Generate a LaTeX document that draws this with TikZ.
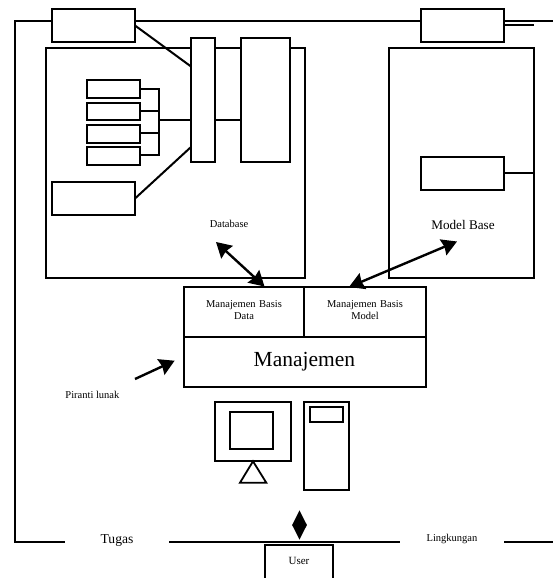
\documentclass[tikz,border=0pt]{standalone}
\usepackage{fontspec}
\setmainfont{Liberation Serif}
\usetikzlibrary{arrows.meta,shapes.geometric}
\tikzset{
  x=1pt,y=-1pt,
  boxnode/.style={draw=black,fill=white,rectangle,inner sep=0pt,outer sep=0pt,line width=2pt},
  thin link/.style={line width=2pt},
  bigarrow/.style={line width=2.4pt,{Stealth[length=15pt,width=17pt,inset=1.5pt]}-{Stealth[length=15pt,width=17pt,inset=1.5pt]}},
  onearrow/.style={line width=2.4pt,-{Stealth[length=15pt,width=17pt,inset=1.5pt]}},
  label small/.style={inner sep=0pt,font=\fontsize{10.5}{12.8}\selectfont,align=center},
  label mid/.style={inner sep=0pt,font=\fontsize{13.2}{15}\selectfont,align=center},
  gap label/.style={fill=white,inner sep=0pt,minimum width=104pt,minimum height=12pt,align=center},
}
% name, x1, y1, x2, y2
\newcommand{\bx}[5]{%
  \pgfmathsetmacro{\cxx}{(#2+#4)/2}\pgfmathsetmacro{\cyy}{(#3+#5)/2}%
  \pgfmathsetmacro{\ww}{#4-#2}\pgfmathsetmacro{\hh}{#5-#3}%
  \node[boxnode,minimum width=\ww pt,minimum height=\hh pt] (#1) at (\cxx,\cyy) {};}
\begin{document}
\begin{tikzpicture}[line width=2pt]
\path[use as bounding box,fill=white] (0,0) rectangle (553,578);
\clip (0,0) rectangle (553,578);
% outer environment frame
\coordinate (frameTR) at (553,21);
\coordinate (frameTL) at (14.5,21);
\coordinate (frameBL) at (14.5,541.7);
\coordinate (frameBR) at (553,541.7);
\draw (frameTR) -- (frameTL) -- (frameBL) -- (frameBR);
\node[gap label,font=\fontsize{13.6}{15}\selectfont] (tugas) at (117,540.5) {Tugas};
\node[gap label,font=\fontsize{10.5}{12}\selectfont] (lingkungan) at (452,539) {Lingkungan};
% database and model base
\bx{db}{46}{48}{304.5}{278}
\bx{mb}{388.7}{48}{534}{278}
\bx{tl}{52}{9}{135}{42}
\bx{tr}{421}{9}{504}{42}
\bx{narrow}{191}{38}{215}{162}
\bx{wide}{241}{38}{290}{162}
\bx{sa}{87}{80}{140}{98}
\bx{sb}{87}{103}{140}{120}
\bx{sc}{87}{125}{140}{143}
\bx{sd}{87}{147}{140}{165}
\bx{ll}{52}{182}{135}{215}
\bx{inner}{421}{157}{504}{190}
\coordinate (brTop) at (159,89);
\coordinate (brBot) at (159,155);
\coordinate (brMid) at (159,120);
\coordinate (nUp) at (191,66.5);
\coordinate (nLow) at (191,147);
\coordinate (nW) at (191,120);
\coordinate (nE) at (215,120);
\coordinate (wW) at (241,120);
\coordinate (sbE) at (140,111);
\coordinate (scE) at (140,133);
\coordinate (innerE) at (504,173);
\draw[thin link] (sa.east |- brTop) -- (brTop) -- (brBot) -- (sd.east |- brBot);
\draw[thin link] (sbE) -- (sbE -| brTop);
\draw[thin link] (scE) -- (scE -| brTop);
\draw[thin link] (brMid) -- (nW);
\draw[thin link] (nE) -- (wW);
\draw[thin link] (tl.east) -- (nUp);
\draw[thin link] (ll.east) -- (nLow);
\draw[thin link] (innerE) -- (innerE -| mb.east);
\coordinate (trLow) at (504,25);
\coordinate (mbCorner) at (534,25);
\draw[thin link] (trLow) -- (mbCorner);
\node[label small] (dbtext) at (229,224) {Database};
\node[label mid] (mbtext) at (463,225) {Model Base};
% management block
\bx{mgr}{184}{336.7}{425.5}{386.7}
\bx{mbd}{184}{287}{304.4}{336.7}
\bx{mbm}{304.4}{287}{425.5}{336.7}
\node[label small,text width=110pt] (mbdt) at (244,310) {Manajemen Basis\\Data};
\node[label small,text width=110pt] (mbmt) at (365,310) {Manajemen Basis\\Model};
\node[inner sep=0pt,font=\fontsize{21.5}{23}\selectfont] (mgrt) at (304.4,362) {Manajemen};
% arrows
\coordinate (a1s) at (216,242);
\coordinate (a1e) at (264.5,286.5);
\coordinate (a2s) at (457,241.5);
\coordinate (a2e) at (349,287);
\coordinate (a3s) at (135,379);
\coordinate (a3e) at (174.6,360.7);
\draw[bigarrow] (a1s) -- (a1e);
\draw[bigarrow] (a2s) -- (a2e);
\draw[onearrow] (a3s) -- (a3e);
\node[label small] (piranti) at (92.4,394.7) {Piranti lunak};
% computer
\bx{mon}{215}{402}{290.6}{461.3}
\bx{scr}{229.6}{412}{273.4}{448.7}
\coordinate (triA) at (253,461.3);
\coordinate (triB) at (266.3,482.7);
\coordinate (triC) at (240,482.7);
\draw[line width=1.8pt] (triA) -- (triB) -- (triC) -- cycle;
\bx{tower}{304.4}{402}{348.5}{490}
\bx{drive}{309.7}{406.7}{342.5}{422}
% user
\node[diamond,fill=black,inner sep=0pt,minimum width=15.6pt,minimum height=30pt] (dia) at (299.5,525) {};
\bx{user}{265}{544.7}{332.6}{590}
\node[inner sep=0pt,font=\fontsize{11}{13}\selectfont] (usert) at (299,560.7) {User};
\end{tikzpicture}
\end{document}
